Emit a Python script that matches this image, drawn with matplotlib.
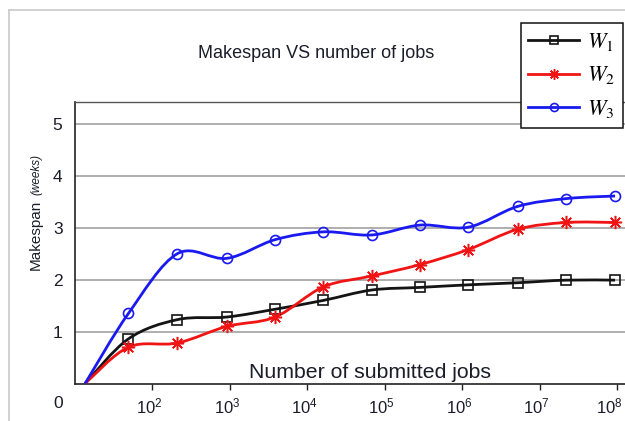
import numpy as np
import matplotlib
matplotlib.use("Agg")
import matplotlib.pyplot as plt
import matplotlib.transforms as mtransforms
from matplotlib.path import Path
from matplotlib.patches import PathPatch
from matplotlib.lines import Line2D

# ---- data -------------------------------------------------------------
jobs = [13.5, 49, 210, 915, 3840, 16100, 67800, 285000, 1.2e6, 5.2e6, 2.2e7, 9.4e7]
w1 = [0.0, 0.86, 1.23, 1.28, 1.43, 1.60, 1.80, 1.85, 1.90, 1.94, 1.99, 1.99]
w2 = [0.0, 0.70, 0.78, 1.10, 1.28, 1.86, 2.07, 2.29, 2.58, 2.97, 3.10, 3.10]
w3 = [0.0, 1.35, 2.50, 2.41, 2.77, 2.92, 2.86, 3.05, 3.01, 3.41, 3.56, 3.61]
series_labels = [r"$W_1$", r"$W_2$", r"$W_3$"]
x_tick_exponents = [2, 3, 4, 5, 6, 7, 8]
y_ticks = [1, 2, 3, 4, 5]

plt.rcParams["font.family"] = ["Liberation Sans", "DejaVu Sans"]
plt.rcParams["mathtext.fontset"] = "stix"

TXT = "#1c1c2a"

fig = plt.figure(figsize=(6.25, 4.21), dpi=100)

# light frame around the figure area
fig.add_artist(Line2D([9 / 625, 9 / 625], [0, 1 - 10 / 421], color="#c9c9c9", lw=1.2))
fig.add_artist(Line2D([9 / 625, 1], [1 - 10 / 421, 1 - 10 / 421], color="#c9c9c9", lw=1.2))

ax = fig.add_axes([75 / 625, 37.5 / 421, 0.89, 281.5 / 421])
ax.set_xscale("log")
ax.set_xlim(10, 10 ** (8 + 14 / 77))
ax.set_ylim(0, 5.42)


def smooth_path(xs, ys):
    """Cubic Bezier path through the points (Catmull-Rom control points in log-x space)."""
    lx = np.log10(np.asarray(xs, float))
    yy = np.asarray(ys, float)
    pts = np.column_stack([lx, yy])
    n = len(pts)
    verts = [pts[0]]
    codes = [Path.MOVETO]
    for i in range(n - 1):
        p0 = pts[i - 1] if i > 0 else pts[i]
        p1 = pts[i]
        p2 = pts[i + 1]
        p3 = pts[i + 2] if i + 2 < n else pts[i + 1]
        c1 = p1 + (p2 - p0) / 6.0
        c2 = p2 - (p3 - p1) / 6.0
        verts += [c1, c2, p2]
        codes += [Path.CURVE4] * 3
    verts = np.array(verts)
    verts[:, 0] = 10 ** verts[:, 0]
    return Path(verts, codes)


styles = [
    dict(color="#141414", marker="s", ms=6.8, mew=1.2),
    dict(color="#f01414", marker=(8, 2, 0), ms=9.5, mew=1.1),
    dict(color="#1a1af0", marker="o", ms=7.2, mew=1.2),
]

handles = []
for ys, st, lab in zip([w1, w2, w3], styles, series_labels):
    ax.add_patch(PathPatch(smooth_path(jobs, ys), facecolor="none",
                           edgecolor=st["color"], lw=2.0, zorder=3))
    ax.plot(jobs[1:], ys[1:], ls="none", marker=st["marker"], ms=st["ms"],
            mfc="none", mec=st["color"], mew=st["mew"], zorder=4)
    handles.append(Line2D([], [], color=st["color"], lw=2.0, marker=st["marker"],
                          ms=st["ms"] * 0.8, mfc="none", mec=st["color"],
                          mew=st["mew"], label=lab))

# grid / spines
for yv in y_ticks:
    ax.axhline(yv, color="#a8a8a8", lw=1.3, zorder=1)
ax.spines["right"].set_visible(False)
for s in ("left", "bottom"):
    ax.spines[s].set_color("#222222")
    ax.spines[s].set_linewidth(1.2)
ax.spines["top"].set_color("#555555")
ax.spines["top"].set_linewidth(1.0)

ax.set_xticks([10.0 ** e for e in x_tick_exponents])
ax.set_xticklabels([r"$\mathregular{10^{%d}}$" % e for e in x_tick_exponents])
ax.minorticks_off()
ax.tick_params(axis="x", direction="out", length=4, width=1, color="#222222",
               labelsize=12, labelcolor=TXT, pad=5)
xlabels = ax.get_xticklabels()
for i, lbl in enumerate(xlabels):
    dx = -8 if i == len(xlabels) - 1 else -3
    lbl.set_transform(lbl.get_transform()
                      + mtransforms.ScaledTranslation(dx / 100, 0, fig.dpi_scale_trans))
ax.set_yticks(y_ticks)
ax.set_yticklabels([str(v) for v in y_ticks])
ax.tick_params(axis="y", length=0, labelsize=12.5, labelcolor=TXT, pad=9)

# origin label
fig.text(58 / 625, 1 - 404 / 421, "0", ha="center", va="center",
         fontsize=12.5, color=TXT)

# axis label inside the plot area
ax.text((370 - 75) / (0.89 * 625), 0.04, "Number of submitted jobs",
        transform=ax.transAxes, ha="center", va="center", fontsize=15.3, color=TXT)

# y label: "Makespan" plus italic unit
fig.text(36 / 625, 1 - 270 / 421, "Makespan", rotation=90, rotation_mode="anchor",
         ha="left", va="center", fontsize=11, color=TXT)
fig.text(36 / 625, 1 - 195 / 421, "(weeks)", rotation=90, rotation_mode="anchor",
         ha="left", va="center", fontsize=8.5, style="italic", color=TXT)

fig.text(316 / 625, 1 - 53 / 421, "Makespan VS number of jobs", ha="center",
         va="center", fontsize=13, color=TXT)

leg = fig.legend(handles=handles, loc="upper right",
                 bbox_to_anchor=(623 / 625, 1 - 23 / 421), borderaxespad=0,
                 fontsize=16, handlelength=2.3, handletextpad=0.35,
                 labelspacing=0.52, borderpad=0.35, fancybox=False,
                 framealpha=1, edgecolor="#111111")
leg.get_frame().set_linewidth(1.1)

fig.savefig("out.png", dpi=100)
